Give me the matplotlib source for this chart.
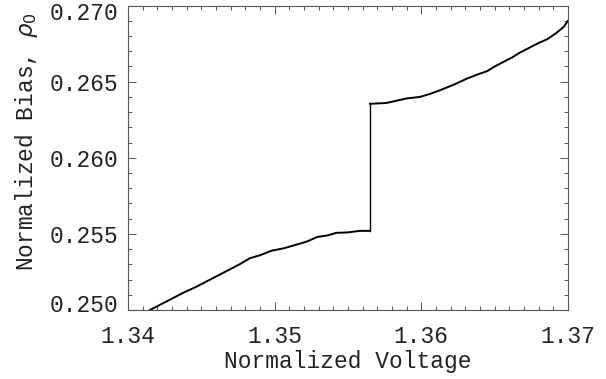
import matplotlib
matplotlib.use("Agg")
import matplotlib.pyplot as plt
import matplotlib.transforms as mtransforms
from matplotlib.ticker import MultipleLocator

# Lower branch (before jump)
v_low = [1.3415, 1.3425, 1.3433, 1.3438, 1.3446, 1.3452, 1.3460, 1.3468, 1.3476,
         1.3483, 1.3490, 1.3498, 1.3506, 1.3515, 1.3522, 1.3529, 1.3536, 1.3542,
         1.3550, 1.3558, 1.3565]
b_low = [0.2500, 0.2505, 0.2509, 0.25115, 0.2515, 0.2518, 0.2522, 0.2526, 0.2530,
         0.2534, 0.2536, 0.2539, 0.25405, 0.2543, 0.2545, 0.2548, 0.2549, 0.25507,
         0.2551, 0.2552, 0.2552]
# Upper branch (after jump)
v_up = [1.3565, 1.3576, 1.3590, 1.3599, 1.3606, 1.3613, 1.3622, 1.3631, 1.3639,
        1.3645, 1.3650, 1.3656, 1.3662, 1.3667, 1.3673, 1.3679, 1.3686, 1.3692,
        1.3697, 1.3700]
b_up = [0.26355, 0.2636, 0.2639, 0.2640, 0.2642, 0.26445, 0.2648, 0.2652, 0.2655,
        0.2657, 0.2660, 0.2663, 0.2666, 0.2669, 0.2672, 0.2675, 0.2678, 0.2682,
        0.2686, 0.2690]

fig = plt.figure(figsize=(6.06, 3.79), dpi=100)
ax = fig.add_axes([0.2112, 0.182, 0.9373 - 0.2112, 0.9852 - 0.182])
ax.plot(v_low, b_low, color="black", lw=1.4)
ax.plot([v_low[-1], v_up[0]], [b_low[-1], b_up[0]], color="black", lw=1.0)
ax.plot(v_up, b_up, color="black", lw=1.4)

ax.set_xlim(1.34, 1.37)
ax.set_ylim(0.250, 0.270)
ax.xaxis.set_major_locator(MultipleLocator(0.01))
ax.xaxis.set_minor_locator(MultipleLocator(0.001))
ax.yaxis.set_major_locator(MultipleLocator(0.005))
ax.yaxis.set_minor_locator(MultipleLocator(0.001))
ax.xaxis.set_major_formatter(plt.FuncFormatter(lambda v, p: f"{v:.2f}"))
ax.yaxis.set_major_formatter(plt.FuncFormatter(lambda v, p: f"{v:.3f}"))

font = "Liberation Mono"
fs = 16.5
tc = "#222222"
for spine in ax.spines.values():
    spine.set_linewidth(0.8)
    spine.set_color("#555555")
ax.tick_params(which="both", direction="in", top=True, right=True, color="#555555", width=0.7)
ax.tick_params(which="major", length=6)
ax.tick_params(which="minor", length=3)
ax.tick_params(axis="x", which="major", pad=11)
ax.tick_params(axis="y", which="major", pad=7)
for lab in ax.get_xticklabels() + ax.get_yticklabels():
    lab.set_fontfamily(font)
    lab.set_fontsize(fs)
    lab.set_color(tc)

fig.canvas.draw()
for lab in ax.get_yticklabels():
    txt = lab.get_text()
    if txt == "0.270":
        dy = -8
    elif txt == "0.250":
        dy = 5
    else:
        dy = -3
    lab.set_va("center")
    lab.set_transform(lab.get_transform() +
                      mtransforms.ScaledTranslation(0, dy / 100.0, fig.dpi_scale_trans))

ax.set_xlabel("Normalized Voltage", fontfamily=font, fontsize=fs, color=tc, labelpad=1)
ax.set_ylabel(r"Normalized Bias, $\rho_0$", fontfamily=font, fontsize=fs, color=tc)
ax.yaxis.set_label_coords(-0.2, 0.555)

fig.savefig("out.png", dpi=100)
